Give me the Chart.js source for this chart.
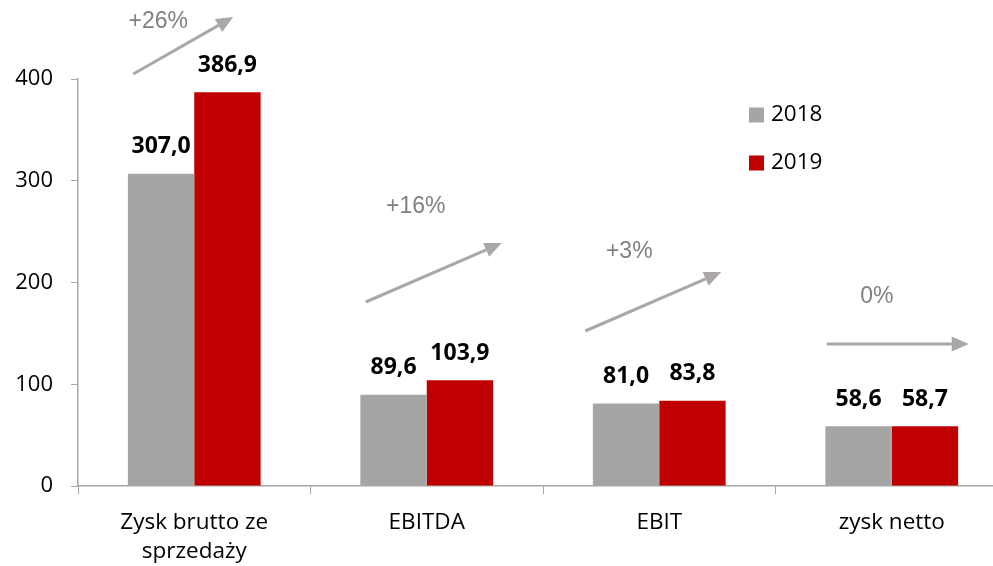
<!DOCTYPE html>
<html>
<head>
<meta charset="utf-8">
<script src="https://cdn.jsdelivr.net/npm/chart.js@4"></script>
<style>
  html, body { margin: 0; padding: 0; background: #fff; overflow: hidden; }
  #wrap { width: 1008px; height: 566px; position: relative; }
</style>
</head>
<body>
<div id="wrap"><canvas id="chart"></canvas></div>
<script>
// ── Données ───────────────────────────────────────────────────────────────────
const categories = [['Zysk brutto ze', 'sprzedaży'], 'EBITDA', 'EBIT', 'zysk netto'];
const values2018 = [307.0, 89.6, 81.0, 58.6];
const values2019 = [386.9, 103.9, 83.8, 58.7];
const growthLabels = ['+26%', '+16%', '+3%', '0%'];
const yTicks = [0, 100, 200, 300, 400];

// ── Style ─────────────────────────────────────────────────────────────────────
const GREY  = '#a5a5a5';
const RED   = '#c00000';
const AXIS  = '#a6a6a6';
const ARROW = '#aba7a7';
const FONT  = '"Open Sans", sans-serif';

// flèches : décalage x par rapport au centre de la catégorie, y en pixels
const arrowLayout = [
  { x1: -61, y1: 74,  x2: 39, y2: 17,  tx: -36, ty: 22 },
  { x1: -61, y1: 302, x2: 75, y2: 243, tx: -11, ty: 207 },
  { x1: -74, y1: 331, x2: 62, y2: 272, tx: -30, ty: 252 },
  { x1: -65, y1: 344, x2: 77, y2: 344, tx: -15, ty: 297 },
];

// ── Plugins ───────────────────────────────────────────────────────────────────
const valueLabels = {
  id: 'valueLabels',
  afterDatasetsDraw(chart) {
    const ctx = chart.ctx;
    ctx.save();
    ctx.font = 'bold 23px ' + FONT;
    ctx.fillStyle = '#000';
    ctx.textAlign = 'center';
    ctx.textBaseline = 'middle';
    chart.data.datasets.forEach((ds, i) => {
      chart.getDatasetMeta(i).data.forEach((bar, j) => {
        const txt = ds.data[j].toFixed(1).replace('.', ',');
        ctx.fillText(txt, bar.x, bar.y - 27);
      });
    });
    ctx.restore();
  },
};

const growthArrows = {
  id: 'growthArrows',
  afterDraw(chart) {
    const ctx = chart.ctx;
    const xs = chart.scales.x;
    ctx.save();
    arrowLayout.forEach((a, i) => {
      const cx = xs.getPixelForValue(i);
      const x1 = cx + a.x1, x2 = cx + a.x2;
      const ang = Math.atan2(a.y2 - a.y1, x2 - x1);
      const hl = 17, hw = 7.5;
      const bx = x2 - hl * Math.cos(ang), by = a.y2 - hl * Math.sin(ang);
      ctx.strokeStyle = ARROW;
      ctx.lineWidth = 3;
      ctx.beginPath();
      ctx.moveTo(x1, a.y1);
      ctx.lineTo(bx, by);
      ctx.stroke();
      ctx.fillStyle = ARROW;
      ctx.beginPath();
      ctx.moveTo(x2, a.y2);
      ctx.lineTo(bx - hw * Math.sin(ang), by + hw * Math.cos(ang));
      ctx.lineTo(bx + hw * Math.sin(ang), by - hw * Math.cos(ang));
      ctx.closePath();
      ctx.fill();

      ctx.font = '23px "Liberation Sans", Arial, sans-serif';
      ctx.fillStyle = '#808080';
      ctx.textAlign = 'center';
      ctx.textBaseline = 'middle';
      ctx.fillText(growthLabels[i], cx + a.tx, a.ty);
    });
    ctx.restore();
  },
};

const innerLegend = {
  id: 'innerLegend',
  afterDraw(chart) {
    const ctx = chart.ctx;
    ctx.save();
    ctx.font = '22.5px ' + FONT;
    ctx.textAlign = 'left';
    ctx.textBaseline = 'middle';
    chart.data.datasets.forEach((ds, i) => {
      const y = 115 + i * 48;
      ctx.fillStyle = ds.backgroundColor;
      ctx.fillRect(749, y - 7.5, 15, 15);
      ctx.fillStyle = '#000';
      ctx.fillText(ds.label, 771, y);
    });
    ctx.restore();
  },
};

// ── Graphique ─────────────────────────────────────────────────────────────────
new Chart(document.getElementById('chart'), {
  type: 'bar',
  data: {
    labels: categories,
    datasets: [
      { label: '2018', data: values2018, backgroundColor: GREY },
      { label: '2019', data: values2019, backgroundColor: RED },
    ],
  },
  options: {
    responsive: true,
    maintainAspectRatio: false,
    animation: false,
    layout: { padding: { top: 79, right: 0, left: 0, bottom: 0 } },
    datasets: { bar: { categoryPercentage: 0.571, barPercentage: 1.0 } },
    plugins: {
      legend: { display: false },
      tooltip: { enabled: false },
    },
    scales: {
      x: {
        offset: true,
        grid: { drawOnChartArea: false, tickLength: 8, color: AXIS, offset: true },
        border: { color: AXIS, width: 1.5 },
        ticks: {
          color: '#000',
          font: { family: FONT, size: 22.5, lineHeight: 1.28 },
          padding: 14,
          maxRotation: 0,
          autoSkip: false,
        },
        afterFit(scale) { scale.height = 80; },
      },
      y: {
        min: 0,
        max: 400,
        afterBuildTicks(scale) { scale.ticks = yTicks.map(v => ({ value: v })); },
        grid: { drawOnChartArea: false, tickLength: 7, color: AXIS },
        border: { color: AXIS, width: 1.5 },
        ticks: {
          color: '#000',
          font: { family: FONT, size: 22 },
          padding: 18,
        },
        afterFit(scale) { scale.width = 78; },
      },
    },
  },
  plugins: [valueLabels, growthArrows, innerLegend],
});
</script>
</body>
</html>
